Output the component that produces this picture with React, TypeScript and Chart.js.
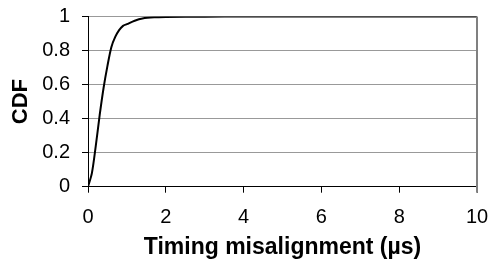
import React, { useEffect, useRef } from "react";
import { Chart, registerables } from "chart.js";

Chart.register(...registerables);

const misalignmentUs = [0, 0.1, 0.2, 0.3, 0.4, 0.5, 0.6, 0.7, 0.8, 0.9, 1.0, 1.2, 1.4, 1.7, 2, 3, 4, 6, 8, 10];
const cdfValues = [0, 0.08, 0.24, 0.42, 0.58, 0.71, 0.82, 0.88, 0.92, 0.945, 0.955, 0.975, 0.988, 0.995, 0.997, 0.999, 1, 1, 1, 1];
const xTicks = [0, 2, 4, 6, 8, 10];
const yTicks = [0, 0.2, 0.4, 0.6, 0.8, 1];

const rightBorder = {
  id: "rightBorder",
  afterDatasetsDraw(chart: any) {
    const { ctx, chartArea } = chart;
    ctx.save();
    ctx.strokeStyle = "#808080";
    ctx.lineWidth = 2;
    ctx.beginPath();
    ctx.moveTo(chartArea.right, chartArea.top);
    ctx.lineTo(chartArea.right, chartArea.bottom + 6);
    ctx.stroke();
    ctx.restore();
  },
};

export default function App() {
  const ref = useRef<HTMLCanvasElement>(null);
  useEffect(() => {
    const font = "Arial, 'Liberation Sans', sans-serif";
    const chart = new Chart(ref.current!, {
      type: "line",
      data: {
        datasets: [
          {
            data: misalignmentUs.map((x, i) => ({ x, y: cdfValues[i] })),
            borderColor: "#000",
            borderWidth: 2,
            pointRadius: 0,
            tension: 0.3,
            fill: false,
          },
        ],
      },
      options: {
        responsive: false,
        animation: false,
        layout: { padding: { top: 16.5, right: 16, bottom: 0, left: 0 } },
        plugins: { legend: { display: false }, tooltip: { enabled: false } },
        scales: {
          x: {
            type: "linear",
            min: 0,
            max: 10,
            afterBuildTicks: (s: any) => {
              s.ticks = xTicks.map((v) => ({ value: v }));
            },
            afterFit: (s: any) => {
              s.height = 75.3;
              s.paddingLeft = 0;
              s.paddingRight = 0;
            },
            grid: { drawOnChartArea: false, tickLength: 6, tickColor: "#000" },
            border: { color: "#000", width: 1 },
            ticks: { color: "#000", font: { family: font, size: 20 }, padding: 13, maxRotation: 0 },
            title: {
              display: true,
              text: "Timing misalignment (µs)",
              color: "#000",
              font: { family: font, size: 23, weight: "bold" },
              padding: { top: 0, bottom: 1 },
            },
          },
          y: {
            type: "linear",
            min: 0,
            max: 1,
            afterBuildTicks: (s: any) => {
              s.ticks = yTicks.map((v) => ({ value: v }));
            },
            afterFit: (s: any) => {
              s.width = 88;
              s.paddingTop = 0;
              s.paddingBottom = 0;
            },
            grid: { color: "#999", lineWidth: 1, tickLength: 6, tickColor: "#000" },
            border: { color: "#000", width: 1 },
            ticks: {
              color: "#000",
              font: { family: font, size: 20 },
              padding: 12,
              callback: (v: any) => String(v),
            },
            title: {
              display: true,
              text: "CDF",
              color: "#000",
              font: { family: font, size: 22, weight: "bold" },
              padding: { top: 8, bottom: 0 },
            },
          },
        },
      },
      plugins: [rightBorder],
    } as any);
    return () => chart.destroy();
  }, []);
  return (
    <div style={{ position: "absolute", left: 0, top: 0, width: 493, height: 262, background: "#fff" }}>
      <canvas ref={ref} width={493} height={262} />
    </div>
  );
}
